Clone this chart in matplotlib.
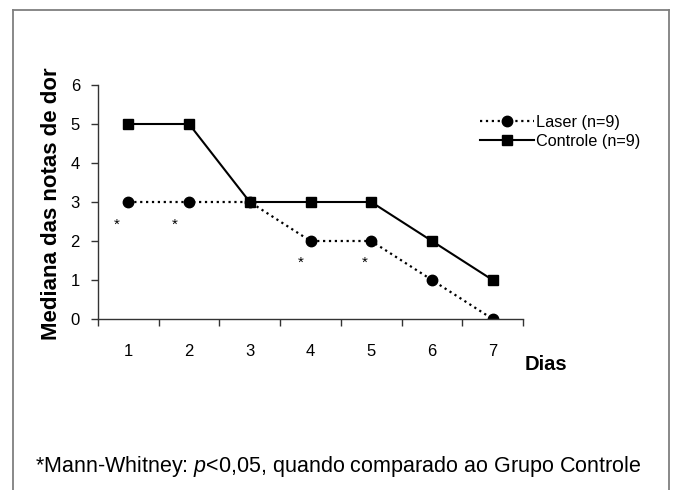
import matplotlib
matplotlib.use("Agg")
import matplotlib.pyplot as plt
from matplotlib.lines import Line2D

plt.rcParams["font.family"] = ["Liberation Sans", "DejaVu Sans"]
plt.rcParams["mathtext.fontset"] = "custom"
plt.rcParams["mathtext.rm"] = "Liberation Sans"
plt.rcParams["mathtext.it"] = "Liberation Sans:italic"

# data
dias = [1, 2, 3, 4, 5, 6, 7]
laser = [3, 3, 3, 2, 2, 1, 0]
controle = [5, 5, 3, 3, 3, 2, 1]
# asterisks (significant days), drawn slightly left of and below the points
ast_x = [0.81, 1.77, 3.84, 4.89]
ast_y = [2.42, 2.42, 1.43, 1.43]

W, H = 673, 490
fig = plt.figure(figsize=(W / 100, H / 100), dpi=100)
ax = fig.add_axes([98 / W, 1 - 319 / H, (523 - 98) / W, (319 - 85) / H])

ax.plot(dias, laser, linestyle=":", color="black", lw=1.6, marker="o",
        markersize=7.5, label="Laser (n=9)")
ax.plot(dias, controle, linestyle="-", color="black", lw=1.5, marker="s",
        markersize=7, label="Controle (n=9)")

for x, y in zip(ast_x, ast_y):
    ax.text(x, y, "*", ha="center", va="center", fontsize=11)

ax.set_xlim(0.5, 7.5)
ax.set_ylim(0, 6)
ax.set_yticks(range(0, 7))
ax.set_xticks(dias)
ax.set_xticks([d - 0.5 for d in dias] + [7.5], minor=True)
ax.tick_params(axis="x", which="major", length=0, pad=18, labelsize=12)
ax.tick_params(axis="x", which="minor", length=5, width=1, color="#333333")
ax.tick_params(axis="y", length=5, width=1, color="#333333", pad=8, labelsize=12)

for s in ("top", "right"):
    ax.spines[s].set_visible(False)
for s in ("left", "bottom"):
    ax.spines[s].set_color("#333333")
    ax.spines[s].set_linewidth(1)

fig.text(52 / W, 1 - 204 / H, "Mediana das notas de dor", rotation=90,
         ha="center", va="center", fontsize=16, fontweight="bold")
fig.text(546 / W, 1 - 364 / H, "Dias", ha="center", va="center",
         fontsize=14.5, fontweight="bold")

ax.legend(loc="upper left", bbox_to_anchor=(480 / W, 1 - 115 / H),
          bbox_transform=fig.transFigure, frameon=False, fontsize=11.7,
          handlelength=3.3, handletextpad=0.15, borderpad=0,
          borderaxespad=0, labelspacing=0.25)

fig.text(35 / W, 1 - 466 / H,
         r"*Mann-Whitney: $p$<0,05, quando comparado ao Grupo Controle",
         ha="left", va="center", fontsize=15.5)

# outer frame around the figure (bottom edge falls outside the image)
frame_kw = dict(color="#7f7f7f", lw=1.3, transform=fig.transFigure)
fig.add_artist(Line2D([13 / W, 13 / W], [0, 1 - 10 / H], **frame_kw))
fig.add_artist(Line2D([13 / W, 669 / W], [1 - 10 / H, 1 - 10 / H], **frame_kw))
fig.add_artist(Line2D([669 / W, 669 / W], [0, 1 - 10 / H], **frame_kw))

fig.savefig("out.png", dpi=100)
